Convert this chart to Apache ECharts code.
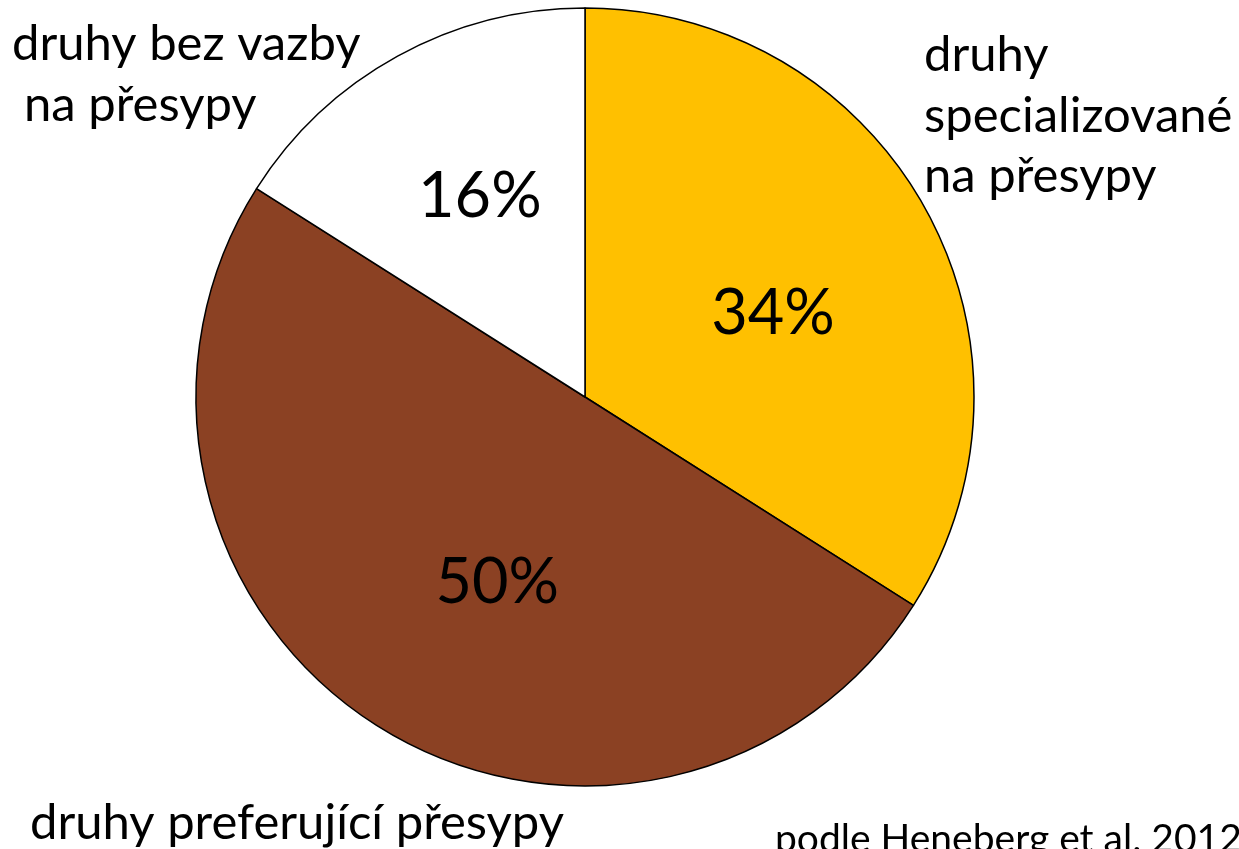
<!DOCTYPE html>
<html>
<head>
<meta charset="utf-8">
<script src="https://cdn.jsdelivr.net/npm/echarts@6/dist/echarts.min.js"></script>
<style>
html,body{margin:0;padding:0;background:#fff;}
#chart{width:1239px;height:849px;}
</style>
</head>
<body>
<div id="chart"></div>
<script>
const categories = ['druhy specializované na přesypy', 'druhy preferující přesypy', 'druhy bez vazby na přesypy'];
const values = [34, 50, 16];
const sliceColors = ['#FFC000', '#8B4123', '#FFFFFF'];
const nameLines = [['druhy', 'specializované', 'na přesypy'], ['druhy preferující přesypy'], ['druhy bez vazby', 'na přesypy']];
const sourceNote = 'podle Heneberg et al. 2012';

const FONT = 'Lato';
const chart = echarts.init(document.getElementById('chart'), null, {renderer: 'canvas'});

// Free-floating name labels (as in the original slide layout)
const nameAnchors = [
  [{x: 924, y: 55}, {x: 924, y: 116}, {x: 924, y: 176}],
  [{x: 30, y: 823}],
  [{x: 12, y: 44}, {x: 24, y: 105}]
];
const graphics = [];
nameLines.forEach((lines, i) => {
  lines.forEach((t, j) => {
    graphics.push({
      type: 'text', x: nameAnchors[i][j].x, y: nameAnchors[i][j].y,
      style: {text: t, font: '49px ' + FONT, fill: '#000', textAlign: 'left', textVerticalAlign: 'middle'}
    });
  });
});
graphics.push({
  type: 'text', x: 775, y: 839,
  style: {text: sourceNote, font: '39px ' + FONT, fill: '#000', textAlign: 'left', textVerticalAlign: 'middle'}
});

const labelShift = [{dx: 15, dy: 12}, {dx: 18, dy: 19}, {dx: -10, dy: -27}];

chart.setOption({
  animation: false,
  backgroundColor: '#fff',
  graphic: graphics,
  series: [{
    type: 'pie',
    center: [585, 397],
    radius: [0, 389],
    startAngle: 90,
    clockwise: true,
    silent: true,
    data: categories.map((c, i) => ({name: c, value: values[i], itemStyle: {color: sliceColors[i]}})),
    itemStyle: {borderColor: '#000', borderWidth: 1.5},
    label: {
      show: true, position: 'inside', formatter: '{c}%',
      fontFamily: FONT, fontSize: 63, color: '#000'
    },
    labelLine: {show: false},
    labelLayout: function (p) { return labelShift[p.dataIndex]; },
    emphasis: {disabled: true}
  }]
});
</script>
</body>
</html>
